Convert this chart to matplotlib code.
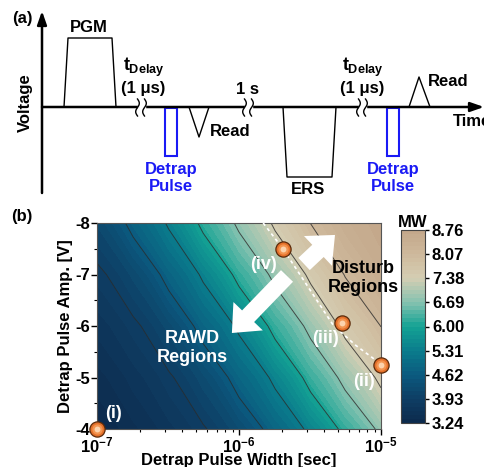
import numpy as np
import matplotlib.pyplot as plt
from matplotlib.colors import LinearSegmentedColormap
from matplotlib.ticker import FuncFormatter, FixedLocator

plt.rcParams['font.family'] = ['Liberation Sans', 'DejaVu Sans']
plt.rcParams['font.weight'] = 'bold'
plt.rcParams['axes.labelweight'] = 'bold'
plt.rcParams['axes.titleweight'] = 'bold'
plt.rcParams['axes.unicode_minus'] = False
plt.rcParams['mathtext.fontset'] = 'custom'
plt.rcParams['mathtext.rm'] = 'Liberation Sans:bold'
plt.rcParams['mathtext.bf'] = 'Liberation Sans:bold'
plt.rcParams['mathtext.it'] = 'Liberation Sans:bold'

# ---- (b) memory window map ----
widths = [1.0e-7, 1.8e-7, 3.2e-7, 5.6e-7, 1.0e-6, 1.8e-6, 3.2e-6, 5.6e-6, 1.0e-5]
amps = [-4, -5, -6, -7, -8]
mw = [
    [3.24, 3.44, 3.66, 3.90, 4.27, 4.86, 5.45, 6.18, 6.82],
    [3.42, 3.64, 3.89, 4.24, 4.84, 5.44, 6.22, 6.86, 7.52],
    [3.63, 3.87, 4.22, 4.82, 5.41, 6.20, 6.85, 7.55, 8.08],
    [3.86, 4.20, 4.80, 5.40, 6.18, 6.84, 7.50, 8.10, 8.52],
    [4.18, 4.78, 5.38, 6.15, 6.80, 7.48, 8.08, 8.50, 8.76],
]
cb_ticks = [3.24, 3.93, 4.62, 5.31, 6.00, 6.69, 7.38, 8.07, 8.76]

# marked conditions (i)-(iv)
pt_names = ['(i)', '(ii)', '(iii)', '(iv)']
pt_w = [1.0e-7, 1.0e-5, 5.3e-6, 2.05e-6]
pt_a = [-4.0, -5.25, -6.06, -7.5]
pt_off = [(12, 11), (-12, -12), (-12, -11), (-14, -11)]

# dashed boundary of disturb region
bound_w = [1.48e-6, 2.04e-6, 4.6e-6, 6.6e-6, 1.0e-5]
bound_a = [-8.0, -7.5, -6.02, -5.63, -5.26]

cmap = LinearSegmentedColormap.from_list('mw', [
    '#0c2a4c', '#0e3e64', '#0b5a7f', '#0a7c8c', '#14a294',
    '#86c2b0', '#d5ceb3', '#ceb99c', '#c3a78a'])

fig = plt.figure(figsize=(4.84, 4.67), dpi=100)

# ---- (a) pulse scheme, drawn in pixel units ----
axa = fig.add_axes([0, 0, 1, 1])
axa.set_xlim(0, 484)
axa.set_ylim(467, 0)
axa.axis('off')

base = 107
arr = dict(arrowstyle='-|>,head_width=0.28,head_length=0.8', lw=1.8, color='k',
           shrinkA=0, shrinkB=0)
axa.annotate('', xy=(42, 11), xytext=(42, 193), arrowprops=arr)
axa.annotate('', xy=(484, base), xytext=(42, base), arrowprops=arr)

pgm = ([64, 68, 112, 116], [base, 38, 38, base])
ers = ([283, 287, 332, 336], [base, 177, 177, base])
read1 = ([189, 199, 209], [base, 137, base])
read2 = ([409, 419, 430], [base, 77, base])
for xs, ys in (pgm, ers, read1, read2):
    axa.plot(xs, ys, color='k', lw=1.0)

for x0 in (165, 387):
    axa.add_patch(plt.Rectangle((x0, 108), 11.5, 48, fill=False,
                                edgecolor='#1a1af5', lw=1.5))
    axa.text(x0 + 6, 178, 'Detrap\nPulse', color='#1a1af5', fontsize=12,
             ha='center', va='center', linespacing=1.15)

# time breaks
t = np.linspace(0, 1, 40)
for xc in (141, 248, 362):
    axa.add_patch(plt.Rectangle((xc - 3.5, base - 2), 7, 4, color='white', zorder=3))
    for dx in (-3.5, 3.5):
        axa.plot(xc + dx + 1.8 * np.sin(2 * np.pi * t), 99 + 17 * t,
                 color='k', lw=1.0, zorder=4)

kw = dict(fontsize=12, ha='center', va='center')
axa.text(89, 27, 'PGM', **kw)
axa.text(308, 190, 'ERS', **kw)
axa.text(248, 89, '1 s', **kw)
for xc in (144, 363):
    axa.text(xc, 71, r'$t_{Delay}$', fontsize=13, ha='center', va='baseline')
    axa.text(xc - 1, 88, '(1 \u03bcs)', **kw)
axa.text(210, 131, 'Read', fontsize=12, ha='left', va='center')
axa.text(428, 82, 'Read', fontsize=12, ha='left', va='center')
axa.text(453, 122, 'Time', fontsize=12, ha='left', va='center')
axa.text(25, 103, 'Voltage', fontsize=12, ha='center', va='center', rotation=90)
axa.text(22, 19, '(a)', **kw)
axa.text(22, 216, '(b)', **kw)

# ---- (b) contour map ----
ax = fig.add_axes([97 / 484, 38 / 467, 284 / 484, 206 / 467])
W, A = np.meshgrid(widths, amps)
Z = np.array(mw)
cf = ax.contourf(W, A, Z, levels=np.linspace(3.24, 8.76, 49), cmap=cmap,
                 vmin=3.24, vmax=8.76)
ax.contour(W, A, Z, levels=cb_ticks[1:-1], colors='#2a2a2a', linewidths=0.7,
           alpha=0.8)
ax.set_xscale('log')
ax.set_xlim(1e-7, 1e-5)
ax.set_ylim(-4, -8)
ax.set_yticks([-8, -7, -6, -5, -4])
ax.yaxis.set_minor_locator(FixedLocator([-7.5, -6.5, -5.5, -4.5]))
ax.xaxis.set_major_formatter(FuncFormatter(lambda v, p: r'$10^{%d}$' % round(np.log10(v))))
ax.tick_params(which='major', length=4, width=1, labelsize=12, pad=1)
ax.tick_params(which='minor', length=2.5, width=0.8)
for sp in ax.spines.values():
    sp.set_color('#555555')
ax.set_xlabel('Detrap Pulse Width [sec]', fontsize=12, labelpad=-2)
ax.set_ylabel('Detrap Pulse Amp. [V]', fontsize=12, labelpad=2)

ax.plot(bound_w, bound_a, color='white', lw=1.2, ls=(0, (2, 2)), zorder=4)

ax.scatter(pt_w, pt_a, s=120, c='#e4702a', edgecolors='#5a2a0a', linewidths=0.9,
           zorder=6, clip_on=False)
ax.scatter(pt_w, pt_a, s=55, c='#f39550', linewidths=0, zorder=7, clip_on=False)
ax.scatter(pt_w, pt_a, s=18, c='#fcd3ad', linewidths=0, zorder=8, clip_on=False)
for name, w, a, off in zip(pt_names, pt_w, pt_a, pt_off):
    ax.annotate(name, (w, a), xytext=off, textcoords='offset points',
                color='white', fontsize=13, ha='center', va='center', zorder=9)

simple = 'simple,head_length=0.6,head_width=1.05,tail_width=0.43'
ax.annotate('', xy=(0.838, 0.942), xytext=(0.729, 0.801), xycoords='axes fraction',
            arrowprops=dict(arrowstyle=simple, color='white', lw=0, shrinkA=0,
                            shrinkB=0, mutation_scale=28), zorder=5)
ax.annotate('', xy=(0.475, 0.466), xytext=(0.669, 0.743), xycoords='axes fraction',
            arrowprops=dict(arrowstyle=simple, color='white', lw=0, shrinkA=0,
                            shrinkB=0, mutation_scale=28), zorder=5)

ax.text(0.335, 0.393, 'RAWD\nRegions', transform=ax.transAxes, color='white',
        fontsize=13, ha='center', va='center', linespacing=1.1, zorder=9)
ax.text(0.937, 0.733, 'Disturb\nRegions', transform=ax.transAxes, color='black',
        fontsize=13, ha='center', va='center', linespacing=1.1, zorder=9)

cax = fig.add_axes([401 / 484, 44 / 467, 24 / 484, 193 / 467])
cb = fig.colorbar(cf, cax=cax, ticks=cb_ticks)
cb.ax.set_yticklabels(['%.2f' % v for v in cb_ticks])
cb.ax.tick_params(labelsize=12, length=3, width=1, pad=2)
cb.ax.minorticks_off()
cb.outline.set_edgecolor('#444444')
cb.ax.set_title('MW', fontsize=12, fontweight='bold', pad=2)

fig.savefig('out.png', dpi=100)
